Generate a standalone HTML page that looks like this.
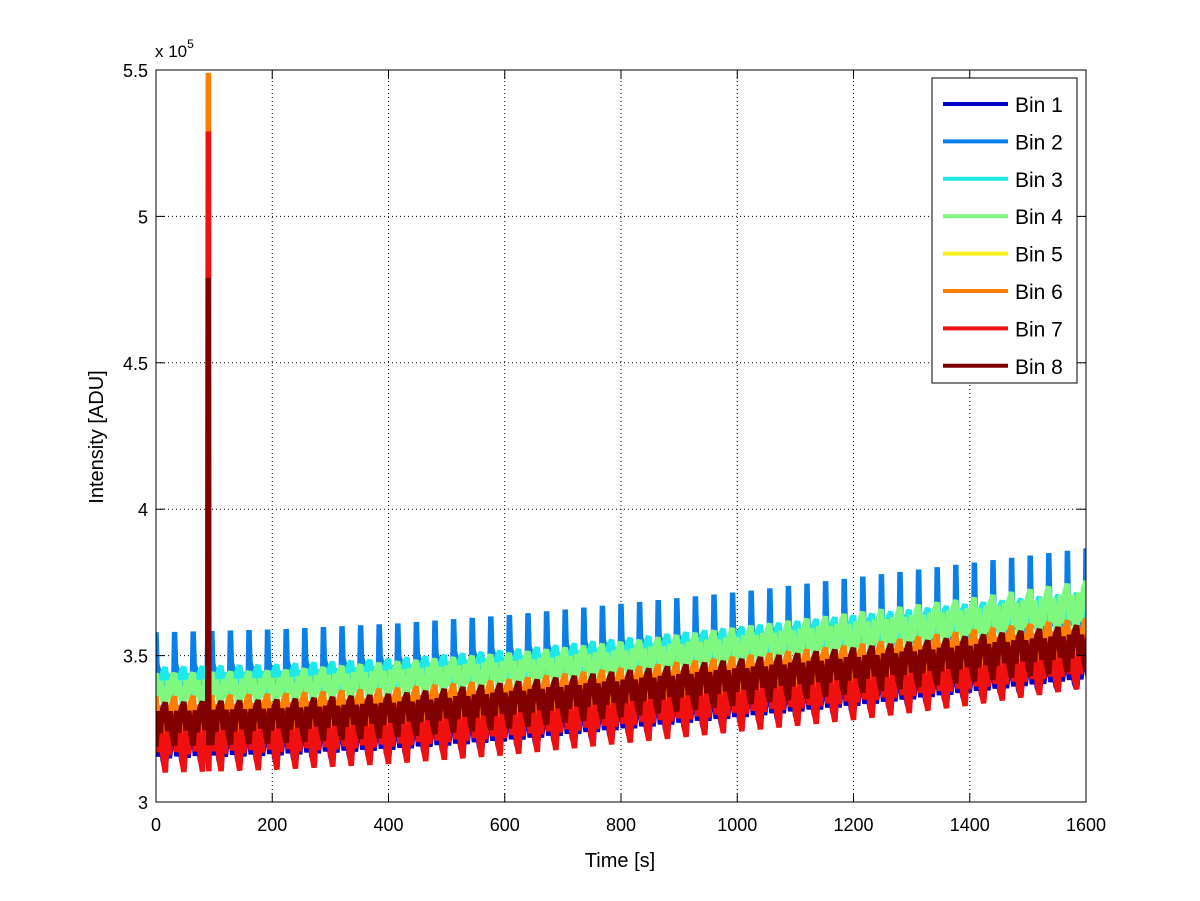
<!DOCTYPE html>
<html><head><meta charset="utf-8"><style>
body{margin:0;background:#fff;}
svg{display:block;font-family:"Liberation Sans",sans-serif;}
</style></head><body>
<svg id="chart" width="1200" height="901"></svg>
<script>
// ---- data (intensity in units of 1e5 ADU) ----
const xTicks = [0,200,400,600,800,1000,1200,1400,1600];
const yTicks = [3,3.5,4,4.5,5,5.5];
const yTickLabels = ["3","3.5","4","4.5","5","5.5"];
const seriesNames = ["Bin 1","Bin 2","Bin 3","Bin 4","Bin 5","Bin 6","Bin 7","Bin 8"];
const seriesColors = ["#0000cc","#0a7fe8","#1ee8e8","#80f880","#f8f020","#ff8000","#f01010","#800000"];
const anchorTimes = [0,200,400,600,800,1000,1200,1400,1600];
const cyclePeriod = 32;
const bin1Peak   = [3.24,3.25,3.27,3.30,3.34,3.38,3.42,3.46,3.50];
const bin1Trough = [3.11,3.12,3.14,3.17,3.21,3.25,3.29,3.34,3.39];
const bin2Peak   = [3.58,3.59,3.61,3.64,3.68,3.72,3.77,3.82,3.87];
const bin2Trough = [3.37,3.38,3.40,3.43,3.46,3.49,3.52,3.55,3.58];
const bin3Peak   = [3.46,3.47,3.49,3.52,3.56,3.60,3.64,3.68,3.72];
const bin3Trough = [3.35,3.36,3.38,3.41,3.44,3.47,3.51,3.55,3.59];
const bin4Peak   = [3.44,3.45,3.48,3.51,3.55,3.60,3.65,3.70,3.76];
const bin4Trough = [3.31,3.32,3.34,3.37,3.40,3.44,3.48,3.52,3.56];
const bin5Peak   = [3.30,3.31,3.33,3.36,3.40,3.44,3.48,3.53,3.57];
const bin5Trough = [3.16,3.17,3.19,3.22,3.26,3.30,3.34,3.38,3.42];
const bin6Peak   = [3.36,3.37,3.39,3.42,3.46,3.50,3.54,3.59,3.63];
const bin6Trough = [3.21,3.22,3.24,3.27,3.31,3.35,3.39,3.43,3.47];
const bin7Peak   = [3.30,3.31,3.33,3.36,3.40,3.44,3.48,3.52,3.56];
const bin7Trough = [3.10,3.11,3.13,3.16,3.20,3.24,3.28,3.33,3.39];
const bin8Peak   = [3.34,3.35,3.37,3.41,3.45,3.49,3.53,3.57,3.61];
const bin8Trough = [3.19,3.20,3.22,3.25,3.29,3.33,3.37,3.41,3.45];
const spikeTime = 90;
const spikeValues = [3.30,3.45,3.45,3.45,3.9,5.49,5.29,4.79];
const seriesPhase = [0.5,0.5,0.0,0.5,0.5,0.5,0.5,0.0];

const peaks = [bin1Peak,bin2Peak,bin3Peak,bin4Peak,bin5Peak,bin6Peak,bin7Peak,bin8Peak];
const troughs = [bin1Trough,bin2Trough,bin3Trough,bin4Trough,bin5Trough,bin6Trough,bin7Trough,bin8Trough];

const X0=156,X1=1086,Y0=802,Y1=70;
const xScale=t=>X0+(t-0)/(1600-0)*(X1-X0);
const yScale=v=>Y0-(v-3)/(5.5-3)*(Y0-Y1);
const NS="http://www.w3.org/2000/svg";
const svg=document.getElementById('chart');
function mk(tag,attrs,parent){const e=document.createElementNS(NS,tag);for(const k in attrs)e.setAttribute(k,attrs[k]);(parent||svg).appendChild(e);return e;}

const bg=mk('rect',{x:X0,y:Y1,width:X1-X0,height:Y0-Y1,fill:'#fff'});



const grid=mk('g',{stroke:'#000','stroke-width':1,'stroke-dasharray':'1,3'});


xTicks.forEach(t=>{if(t>0&&t<1600)mk('line',{x1:xScale(t),x2:xScale(t),y1:Y0,y2:Y1},grid);});
yTicks.forEach(v=>{if(v>3&&v<5.5)mk('line',{x1:X0,x2:X1,y1:yScale(v),y2:yScale(v)},grid);});

function interp(arr,t){
  t=Math.max(0,t);
  for(let i=0;i<anchorTimes.length-1;i++){
    if(t<=anchorTimes[i+1]){const f=(t-anchorTimes[i])/(anchorTimes[i+1]-anchorTimes[i]);return arr[i]+f*(arr[i+1]-arr[i]);}
  }
  return arr[arr.length-1];
}
const clip=mk('clipPath',{id:'pc'});mk('rect',{x:X0,y:Y1,width:X1-X0,height:Y0-Y1},clip);
const seriesG=mk('g',{'clip-path':'url(#pc)'});


[0,1,2,3,4,5,6,7].forEach(s=>{
  const pts=[];
  const ph=seriesPhase[s];
  const narrow=(s===1);
  for(let c=-1;c*cyclePeriod<1600+cyclePeriod;c++){
    const tb=(c+ph)*cyclePeriod;
    const P=cyclePeriod;
    const lo=t=>interp(troughs[s],t), hi=t=>interp(peaks[s],t);
    const m=(a,b,f)=>a+(b-a)*f;
    if(narrow){
      pts.push([tb,lo(tb)]);
      pts.push([tb+P*0.25,lo(tb)+0.04]);
      pts.push([tb+P*0.45,lo(tb)+0.02]);
      pts.push([tb+P*0.5-1,lo(tb)+0.08]);
      pts.push([tb+P*0.5,hi(tb)]);
      pts.push([tb+P*0.5+1.5,lo(tb)+0.1]);
      pts.push([tb+P*0.75,lo(tb)+0.05]);
    } else {
      pts.push([tb,lo(tb)]);
      pts.push([tb+P*0.12,m(lo(tb),hi(tb),0.8)]);
      pts.push([tb+P*0.22,m(lo(tb),hi(tb),0.3)]);
      pts.push([tb+P*0.36,m(lo(tb),hi(tb),0.85)]);
      pts.push([tb+P*0.5,hi(tb)]);
      pts.push([tb+P*0.62,m(lo(tb),hi(tb),0.35)]);
      pts.push([tb+P*0.76,m(lo(tb),hi(tb),0.8)]);
      pts.push([tb+P*0.88,m(lo(tb),hi(tb),0.25)]);
    }
    if(tb<spikeTime && tb+cyclePeriod>=spikeTime){
      pts.push([spikeTime-0.8,interp(peaks[s],spikeTime)]);
      pts.push([spikeTime,spikeValues[s]]);
      pts.push([spikeTime+0.8,interp(troughs[s],spikeTime)]);
    }
  }
  pts.sort((a,b)=>a[0]-b[0]);
  const d=pts.map((p,i)=>(i?'L':'M')+xScale(p[0]).toFixed(1)+','+yScale(p[1]).toFixed(1)).join('');
  const path=mk('path',{d:d,fill:'none',stroke:seriesColors[s],'stroke-width':5.5,'stroke-linejoin':'bevel'},seriesG);
  
  
});

const box=mk('rect',{x:X0,y:Y1,width:X1-X0,height:Y0-Y1,fill:'none',stroke:'#000','stroke-width':1});


const ticks=mk('g',{stroke:'#000','stroke-width':1});
xTicks.forEach((t,i)=>{
  const x=xScale(t);
  mk('line',{x1:x,x2:x,y1:Y0,y2:Y0-9},ticks);mk('line',{x1:x,x2:x,y1:Y1,y2:Y1+9},ticks);
  const tx=mk('text',{x:x,y:Y0+29,'text-anchor':'middle','font-size':18,fill:'#000',stroke:'none'});
  tx.textContent=t;
  
  
});
yTicks.forEach((v,i)=>{
  const y=yScale(v);
  mk('line',{x1:X0,x2:X0+9,y1:y,y2:y},ticks);mk('line',{x1:X1,x2:X1-9,y1:y,y2:y},ticks);
  const tx=mk('text',{x:X0-8,y:y+7,'text-anchor':'end','font-size':18,fill:'#000',stroke:'none'});
  tx.textContent=yTickLabels[i];
  
  
});
const mult=mk('text',{x:155,y:57,'font-size':17,fill:'#000'});
mult.innerHTML='x 10<tspan dy="-9" font-size="12">5</tspan>';


const xt=mk('text',{x:620,y:867,'text-anchor':'middle','font-size':20,fill:'#000'});
xt.textContent='Time [s]';


const yt=mk('text',{x:0,y:0,'text-anchor':'middle','font-size':20,fill:'#000',transform:'translate(103,437) rotate(-90)'});
yt.textContent='Intensity [ADU]';



const lg=mk('g',{});


mk('rect',{x:932,y:78,width:145,height:305,fill:'#fff',stroke:'#000','stroke-width':1},lg);
seriesNames.forEach((n,i)=>{
  const y=104+i*37.4;
  const e=mk('g',{},lg);
  
  
  mk('line',{x1:943,x2:1008,y1:y,y2:y,stroke:seriesColors[i],'stroke-width':4},e);
  const t=mk('text',{x:1015,y:y+8,'font-size':21,fill:'#000'},e);
  t.textContent=n;
});
</script>
</body></html>
